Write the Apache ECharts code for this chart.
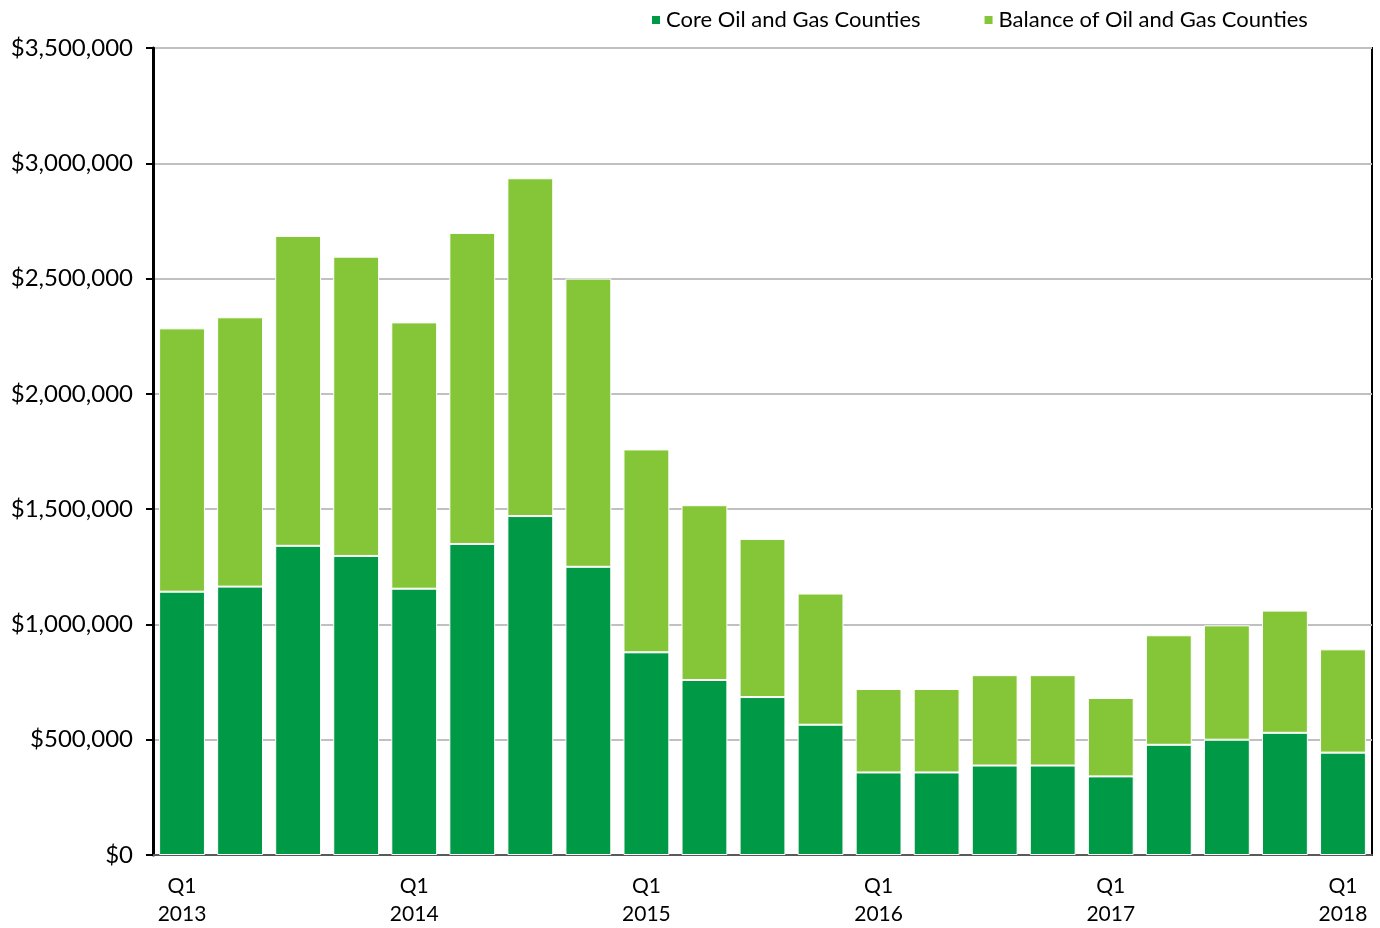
<!DOCTYPE html>
<html>
<head>
<meta charset="utf-8">
<script src="https://cdn.jsdelivr.net/npm/echarts@6/dist/echarts.min.js"></script>
<style>
  html, body { margin: 0; padding: 0; background: #fff; }
  #main { width: 1380px; height: 928px; }
</style>
</head>
<body>
<div id="main"></div>
<script type="text/javascript">
  // quarters 2013 Q1 .. 2018 Q1
  var quarters = [
    'Q1\n2013', 'Q2\n2013', 'Q3\n2013', 'Q4\n2013',
    'Q1\n2014', 'Q2\n2014', 'Q3\n2014', 'Q4\n2014',
    'Q1\n2015', 'Q2\n2015', 'Q3\n2015', 'Q4\n2015',
    'Q1\n2016', 'Q2\n2016', 'Q3\n2016', 'Q4\n2016',
    'Q1\n2017', 'Q2\n2017', 'Q3\n2017', 'Q4\n2017',
    'Q1\n2018'
  ];
  var coreCounties = [
    1142000, 1164000, 1341000, 1297000, 1155000, 1349000, 1470000, 1250000,
    879000, 759000, 685000, 565000, 358000, 358000, 388000, 388000,
    341000, 478000, 500000, 530000, 444000
  ];
  var balanceCounties = [
    1142000, 1168000, 1344000, 1298000, 1155000, 1349000, 1465000, 1250000,
    880000, 758000, 686000, 569000, 362000, 362000, 392000, 392000,
    340000, 475000, 496000, 530000, 448000
  ];
  var yTicks = [0, 500000, 1000000, 1500000, 2000000, 2500000, 3000000, 3500000];

  var chart = echarts.init(document.getElementById('main'));
  var font = 'Lato, "Noto Sans", sans-serif';

  var option = {
    animation: false,
    textStyle: { fontFamily: font },
    legend: {
      left: 645,
      top: 4,
      itemWidth: 10,
      itemHeight: 10,
      itemGap: 62,
      icon: 'rect',
      textStyle: { fontSize: 22, color: '#000', fontFamily: font },
      data: ['Core Oil and Gas Counties', 'Balance of Oil and Gas Counties']
    },
    grid: {
      left: 153,
      right: 8,
      top: 48,
      bottom: 68,
      show: true,
      borderColor: '#000',
      borderWidth: 2,
      containLabel: false
    },
    xAxis: {
      type: 'category',
      data: quarters,
      axisLine: { show: true, lineStyle: { color: '#595959', width: 2 } },
      axisTick: { show: false },
      axisLabel: {
        interval: 3,
        fontSize: 21,
        color: '#000',
        lineHeight: 28,
        margin: 17,
        formatter: function (v) { return v.indexOf('Q1') === 0 ? v : ''; }
      }
    },
    yAxis: {
      type: 'value',
      min: yTicks[0],
      max: yTicks[yTicks.length - 1],
      interval: 500000,
      axisLine: { show: true, lineStyle: { color: '#000', width: 3 } },
      axisTick: { show: true, length: 7, lineStyle: { color: '#000', width: 2 } },
      splitLine: { lineStyle: { color: '#c0c0c0', width: 2 } },
      axisLabel: {
        fontSize: 24,
        color: '#000',
        margin: 20,
        formatter: function (v) { return '$' + v.toLocaleString('en-US'); }
      }
    },
    series: [
      {
        name: 'Core Oil and Gas Counties',
        type: 'bar',
        stack: 'total',
        barCategoryGap: '21%',
        itemStyle: { color: '#009946', borderColor: '#fff', borderWidth: 1 },
        data: coreCounties
      },
      {
        name: 'Balance of Oil and Gas Counties',
        type: 'bar',
        stack: 'total',
        barCategoryGap: '21%',
        itemStyle: { color: '#85c638', borderColor: '#fff', borderWidth: 1 },
        data: balanceCounties
      }
    ]
  };
  chart.setOption(option);
</script>
</body>
</html>
